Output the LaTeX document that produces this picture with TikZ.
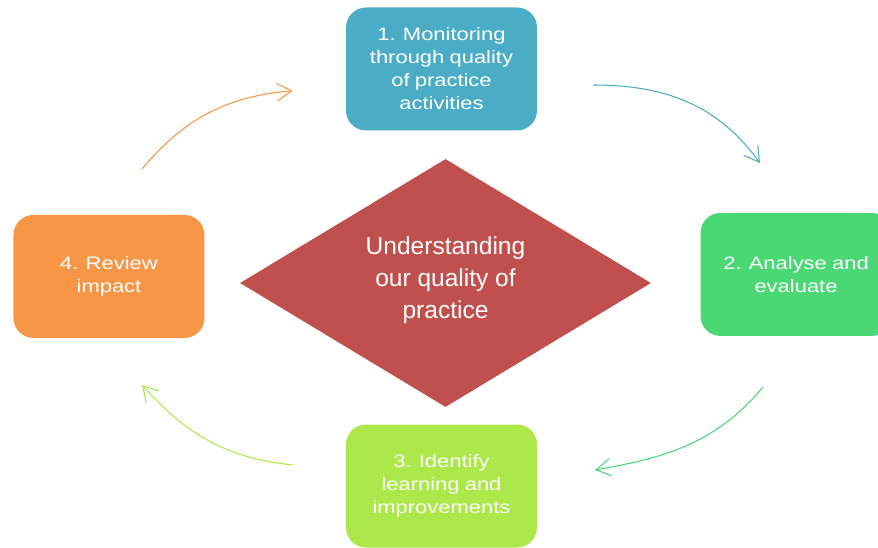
\documentclass[tikz,border=0pt]{standalone}
\usepackage{fontspec}
\setmainfont{Liberation Sans}
\newfontfamily\stagefont[FakeStretch=1.22,WordSpace=0.85]{Liberation Sans}
\usepackage{tikz}
\usetikzlibrary{shapes.geometric}
\usetikzlibrary{arrows.meta}
\definecolor{monitorblue}{HTML}{4BACC6}
\definecolor{analysegreen}{HTML}{4AD875}
\definecolor{identifylime}{HTML}{ADE84A}
\definecolor{revieworange}{HTML}{F79646}
\definecolor{corered}{HTML}{C0504D}

\begin{document}
\begin{tikzpicture}[x=0.75pt,y=0.75pt]
    \newcommand{\stagew}[0]{ 143.25pt }
    \newcommand{\stageh}[0]{ 92.25pt }
    \tikzstyle{stage}=[
      rectangle,
      rounded corners=15pt,
      minimum width=\stagew,
      minimum height=\stageh,
      inner sep=0pt,
      align=center,
      text=white,
      font=\stagefont\fontsize{13.5pt}{17.25pt}\selectfont,
    ]
    \tikzstyle{cycle}=[line width=0.8pt,-{Straight Barb[length=11pt,width=13pt]}]

    \useasboundingbox (0,0) rectangle (878,-547);
    \clip (0,0) rectangle (878,-547);

    \node[diamond,fill=corered,aspect=1.66,inner sep=0pt,
          minimum width=308.25pt,minimum height=186pt] (core) at (445.5,-283) {};
    \node[align=center,text=white,font=\fontsize{18.4pt}{24pt}\selectfont] (core_label) at
      ([yshift=1.9pt]core.center)
      {Understanding\\our quality of\\practice};
    \node[stage,fill=monitorblue,anchor=south] (monitor) at
      ([xshift=-3pt,yshift=21pt]core.north)
      {1. Monitoring\\through quality\\of practice\\activities};
    \node[stage,fill=analysegreen,anchor=west] (analyse) at
      ([xshift=36.75pt,yshift=6.4pt]core.east)
      {2. Analyse and\\evaluate};
    \node[stage,fill=identifylime,anchor=north] (identify) at
      ([xshift=-3pt,yshift=-12.75pt]core.south)
      {3. Identify\\learning and\\improvements};
    \node[stage,fill=revieworange,anchor=east] (review) at
      ([xshift=-26.25pt,yshift=4.9pt]core.west)
      {4. Review\\impact};

    % monitor -> analyse
    \coordinate (monitor_out) at (593,-85);
    \coordinate (analyse_in)  at (760,-163);
    \draw[cycle,draw=monitorblue] (monitor_out) to[out=0,in=126] (analyse_in);

    % analyse -> identify
    \coordinate (analyse_out) at (763,-387);
    \coordinate (identify_in) at (595,-470);
    \draw[cycle,draw=analysegreen] (analyse_out) to[out=230,in=10] (identify_in);

    % identify -> review
    \coordinate (identify_out) at (292.7,-465);
    \coordinate (review_in)    at (142,-385);
    \draw[cycle,draw=identifylime] (identify_out) to[out=174,in=-48] (review_in);

    % review -> monitor
    \coordinate (review_out) at (142,-169);
    \coordinate (monitor_in) at (292.7,-90.7);
    \draw[cycle,draw=revieworange] (review_out) to[out=50,in=185] (monitor_in);
\end{tikzpicture}
\end{document}
